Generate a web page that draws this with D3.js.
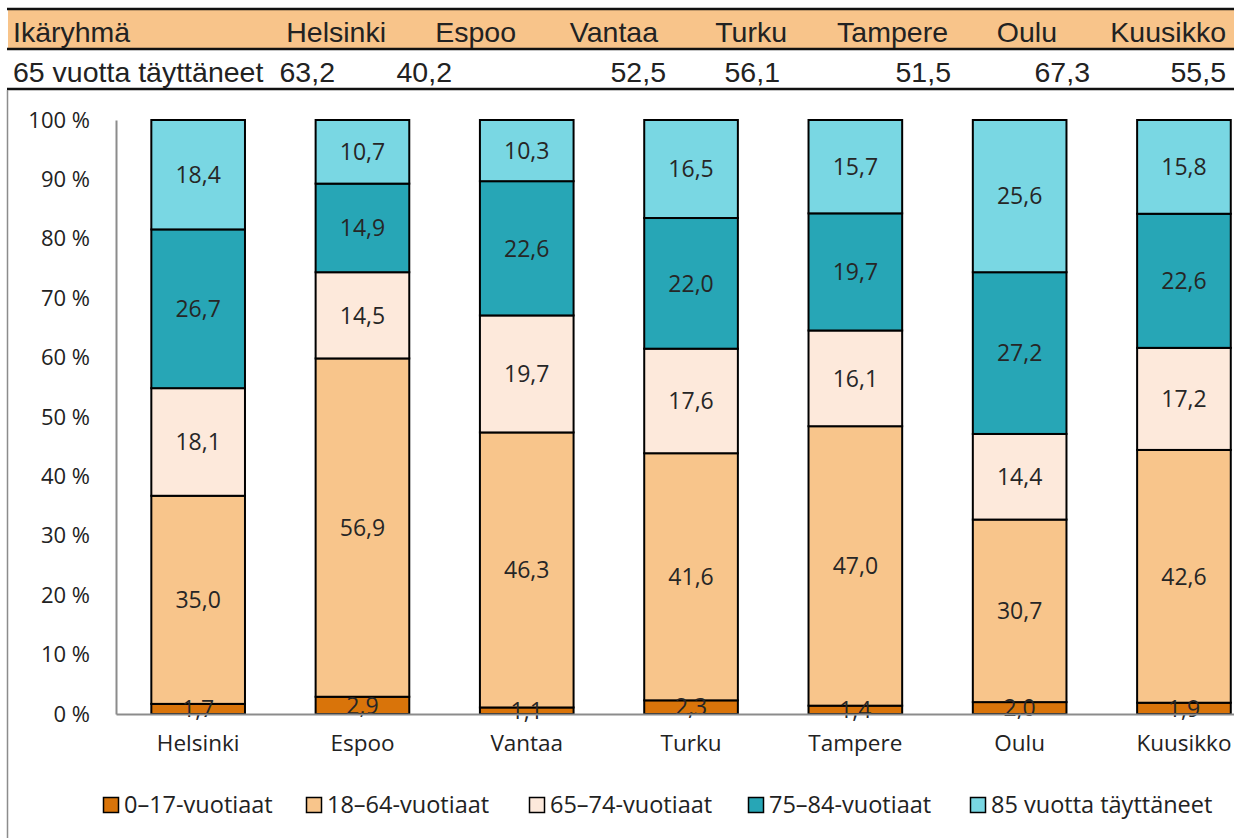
<!DOCTYPE html>
<html>
<head>
<meta charset="utf-8">
<script src="https://cdn.jsdelivr.net/npm/d3@7"></script>
<style>
  body { margin: 0; background: #fff; }
  svg { display: block; }
</style>
</head>
<body>
<div id="chart"></div>
<script>
// data
var cities = ["Helsinki", "Espoo", "Vantaa", "Turku", "Tampere", "Oulu", "Kuusikko"];
var seriesNames = ["0–17-vuotiaat", "18–64-vuotiaat", "65–74-vuotiaat", "75–84-vuotiaat", "85 vuotta täyttäneet"];
var age0_17 = [1.7, 2.9, 1.1, 2.3, 1.4, 2.0, 1.9];
var age18_64 = [35.0, 56.9, 46.3, 41.6, 47.0, 30.7, 42.6];
var age65_74 = [18.1, 14.5, 19.7, 17.6, 16.1, 14.4, 17.2];
var age75_84 = [26.7, 14.9, 22.6, 22.0, 19.7, 27.2, 22.6];
var age85 = [18.4, 10.7, 10.3, 16.5, 15.7, 25.6, 15.8];
var tableTitle = "Ikäryhmä";
var tableRowLabel = "65 vuotta täyttäneet";
var tableValues = ["63,2", "40,2", "52,5", "56,1", "51,5", "67,3", "55,5"];
var yTicks = [0, 10, 20, 30, 40, 50, 60, 70, 80, 90, 100];

var colors = ["#D9740A", "#F8C58B", "#FDE9DB", "#27A6B6", "#79D7E3"];

var W = 1234, H = 838;
var svg = d3.select("#chart").append("svg")
  .attr("width", W).attr("height", H);

// --- table on top ---
var headFont = "'Liberation Sans', Arial, sans-serif";
var headSize = "28.5px";
svg.append("rect").attr("x", 8).attr("y", 10).attr("width", W - 8).attr("height", 38)
  .attr("fill", "#F8C48A");
[9, 49, 89].forEach(function (yy) {
  svg.append("line").attr("x1", 7).attr("x2", W).attr("y1", yy).attr("y2", yy)
    .attr("stroke", "#111").attr("stroke-width", 2.5);
});
// column anchors (right edges) for header and values
var headRight = [386, 516, 658, 787, 948, 1057, 1226];
var valRight = [335, 452, 666, 780, 951, 1090, 1226];

svg.append("text").attr("x", 13).attr("y", 42).text(tableTitle)
  .style("font-family", headFont).style("font-size", headSize).attr("fill", "#222");
svg.append("text").attr("x", 13).attr("y", 82).text(tableRowLabel)
  .style("font-family", headFont).style("font-size", headSize).attr("fill", "#222");
svg.selectAll(".hcol").data(cities).enter().append("text")
  .attr("x", function (d, i) { return headRight[i]; })
  .attr("y", 42).attr("text-anchor", "end")
  .style("font-family", headFont).style("font-size", headSize).attr("fill", "#222")
  .text(function (d) { return d; });
svg.selectAll(".vcol").data(tableValues).enter().append("text")
  .attr("x", function (d, i) { return valRight[i]; })
  .attr("y", 82).attr("text-anchor", "end")
  .style("font-family", headFont).style("font-size", headSize).attr("fill", "#222")
  .text(function (d) { return d; });

// chart frame (left edge visible)
svg.append("line").attr("x1", 7.5).attr("x2", 7.5).attr("y1", 90).attr("y2", H)
  .attr("stroke", "#8c8c8c").attr("stroke-width", 1.5);

// --- stacked bars ---
var font = "'Open Sans', 'Noto Sans', sans-serif";
var x0 = 116, step = 164.3;
var x = d3.scaleBand().domain(cities).range([x0, x0 + step * cities.length])
  .paddingInner(0.43).paddingOuter(0.215);
var y = d3.scaleLinear().domain([0, 100]).range([714, 120]);

var table = cities.map(function (c, i) {
  var vals = [age0_17[i], age18_64[i], age65_74[i], age75_84[i], age85[i]];
  var tot = d3.sum(vals);
  var row = { city: c };
  vals.forEach(function (v, k) { row["s" + k] = v / tot * 100; row["v" + k] = v; });
  return row;
});
var keys = seriesNames.map(function (d, k) { return "s" + k; });
var stacked = d3.stack().keys(keys)(table);

var g = svg.append("g");
stacked.forEach(function (layer, k) {
  g.append("g").selectAll("rect").data(layer).enter().append("rect")
    .attr("x", function (d) { return x(d.data.city); })
    .attr("y", function (d) { return y(d[1]); })
    .attr("width", x.bandwidth())
    .attr("height", function (d) { return y(d[0]) - y(d[1]); })
    .attr("fill", colors[k])
    .attr("stroke", "#000").attr("stroke-width", 2);
});

// axes
var yAxis = svg.append("g").attr("transform", "translate(" + x0 + ",0)")
  .call(d3.axisLeft(y).tickValues(yTicks).tickSize(0).tickPadding(26)
    .tickFormat(function (d) { return d + " %"; }));
yAxis.select(".domain").attr("stroke", "#8c8c8c").attr("stroke-width", 2);
yAxis.selectAll("text").style("font-family", font).style("font-size", "22px").attr("fill", "#222");

var xAxis = svg.append("g").attr("transform", "translate(0,714)")
  .call(d3.axisBottom(x).tickSize(0).tickPadding(21));
xAxis.select(".domain").attr("stroke", "#8c8c8c").attr("stroke-width", 2);
xAxis.selectAll("text").style("font-family", font).style("font-size", "22.5px").attr("fill", "#222");

// data labels
stacked.forEach(function (layer, k) {
  g.append("g").selectAll("text").data(layer).enter().append("text")
    .attr("x", function (d) { return x(d.data.city) + x.bandwidth() / 2; })
    .attr("y", function (d) { return (y(d[0]) + y(d[1])) / 2; })
    .attr("dy", "0.36em")
    .attr("text-anchor", "middle")
    .style("font-family", font).style("font-size", "23px").attr("fill", "#262626")
    .text(function (d) { return d3.format(".1f")(d.data["v" + k]).replace(".", ","); });
});

// legend
var legX = [103, 306, 529, 748, 970];
var leg = svg.selectAll(".leg").data(seriesNames).enter().append("g")
  .attr("transform", function (d, i) { return "translate(" + legX[i] + ",797)"; });
leg.append("rect").attr("x", 0.5).attr("y", 0.5).attr("width", 15).attr("height", 15)
  .attr("fill", function (d, i) { return colors[i]; })
  .attr("stroke", "#000").attr("stroke-width", 1.5);
leg.append("text").attr("x", 21).attr("y", 8).attr("dy", "0.36em")
  .style("font-family", font).style("font-size", "23.5px").attr("fill", "#222")
  .text(function (d) { return d; });
</script>
</body>
</html>
